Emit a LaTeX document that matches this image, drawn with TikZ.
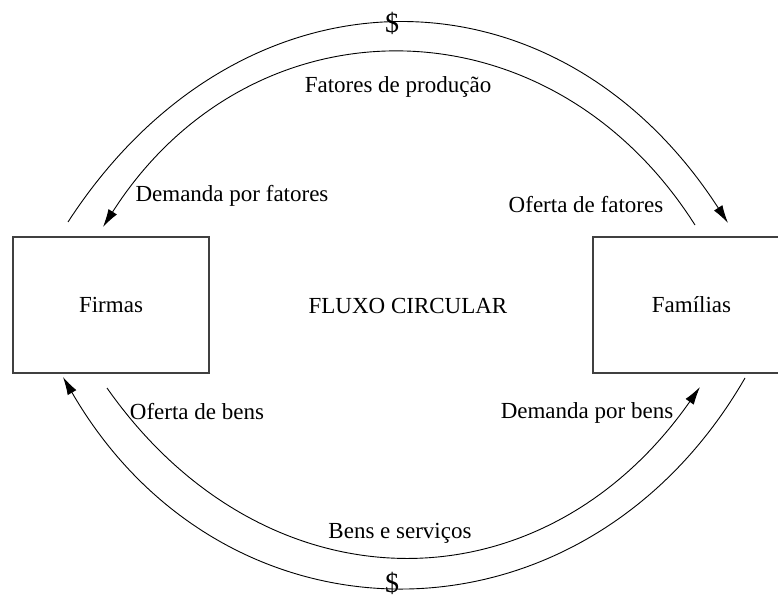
\documentclass[tikz,border=0pt]{standalone}
\usepackage{fontspec}
\setmainfont{Liberation Serif}
\usepackage{tikz}
\usetikzlibrary{arrows.meta}
\usetikzlibrary{positioning}

\begin{document}
\begin{tikzpicture}[
        x=0.5pt,
        y=-0.5pt,
        font=\fontsize{11.5}{13}\selectfont,
        sector/.style={
            rectangle,
            draw=black!75,
            line width=0.7pt,
            fill=white,
            text centered,
            minimum width=98pt,
            minimum height=68pt
        },
        flow/.style={
            draw,
            line width=0.45pt,
            -{Latex[length=9pt,width=5pt]}
        },
        money/.style={
            font=\fontsize{14}{14}\selectfont,
            inner sep=0pt
        },
        ]

        \useasboundingbox (0,0) rectangle (778,599);

        \node [sector] (firmas) at (111,305) {Firmas};
        \node [sector,minimum width=98.5pt] (familias) at (691.5,305) {Famílias};
        \node (fluxo) at (408,306) {FLUXO CIRCULAR};

        % fluxo de fatores (cima)
        \coordinate (outer-top-start) at (68,222);
        \coordinate (outer-top-end) at (728,223);
        \coordinate (inner-top-start) at (695,225);
        \coordinate (inner-top-end) at (103,227);
        \path [flow] (outer-top-start) .. controls (240,-43) and (556,-43) .. (outer-top-end);
        \path [flow] (inner-top-start) .. controls (549,-5) and (251,-5) .. (inner-top-end);
        \node [money] (dollar-top) at (392,23) {\$};
        \node (fatores) at (398,87) {Fatores de produção};
        \node (demanda-fatores) at (232,196) {Demanda por fatores};
        \node (oferta-fatores) at (586,205) {Oferta de fatores};

        % fluxo de bens (baixo)
        \coordinate (outer-bottom-start) at (745,378);
        \coordinate (outer-bottom-end) at (63,377);
        \coordinate (inner-bottom-start) at (107,388);
        \coordinate (inner-bottom-end) at (700,387);
        \path [flow] (outer-bottom-start) .. controls (584,657) and (225,657) .. (outer-bottom-end);
        \path [flow] (inner-bottom-start) .. controls (265,613) and (542,613) .. (inner-bottom-end);
        \node [money] (dollar-bottom) at (392,583) {\$};
        \node (bens) at (400,533) {Bens e serviços};
        \node (oferta-bens) at (197,412) {Oferta de bens};
        \node (demanda-bens) at (587,413) {Demanda por bens};
    \end{tikzpicture}
\end{document}
